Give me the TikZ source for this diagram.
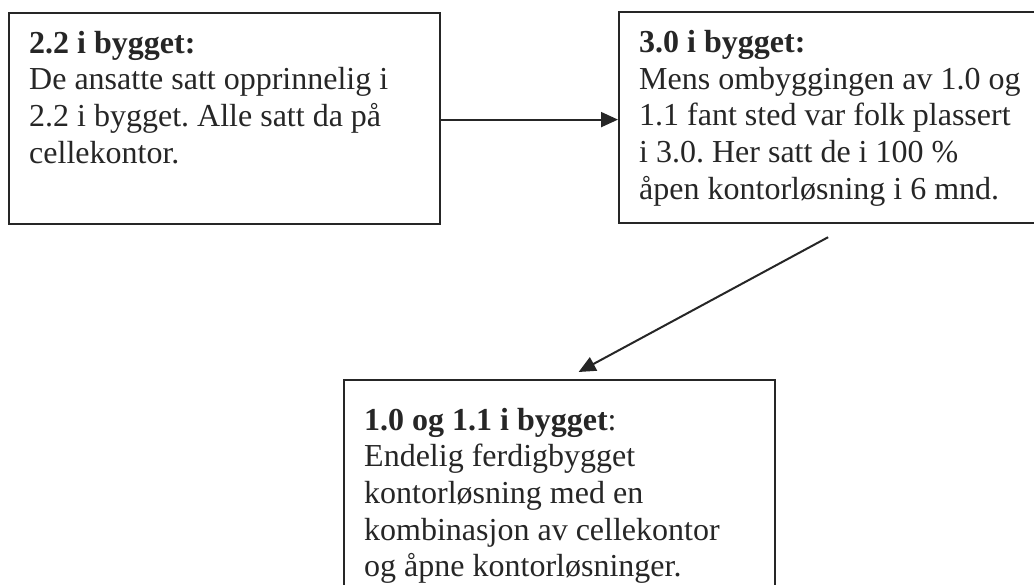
\documentclass[tikz,border=0pt]{standalone}
\usepackage{fontspec}
\setmainfont{Liberation Serif}
\usetikzlibrary{arrows.meta}
\definecolor{ink}{HTML}{262626}
\frenchspacing
\begin{document}
\begin{tikzpicture}[x=1pt,y=1pt,
  box/.style={draw=ink, line width=2.2pt, rectangle, inner sep=0pt,
    minimum width=431pt, minimum height=211pt, anchor=north west},
  txt/.style={inner sep=0pt, anchor=north west, align=left, text=ink,
    font=\fontsize{32}{36.7}\selectfont},
  link/.style={draw=ink, line width=2pt, -{Triangle[length=17pt,width=15pt]}}]
  \useasboundingbox (0,0) rectangle (1034,-584);
  \clip (0,0) rectangle (1034,-584);

  % frames
  \node[box] (b1) at (8,-12) {};
  \node[box] (b2) at (618,-11) {};
  \node[box] (b3) at (343,-379) {};

  % texts
  \node[txt] (t1) at (29,-27.3) {\strut\textbf{2.2 i bygget:}\\
    De ansatte satt opprinnelig i\\
    2.2 i bygget. Alle satt da på\\
    cellekontor.};
  \node[txt] (t2) at (639,-26.5) {\strut\textbf{3.0 i bygget:}\\
    Mens ombyggingen av 1.0 og\\
    1.1 fant sted var folk plassert\\
    i 3.0. Her satt de i 100 \%\\
    åpen kontorløsning i 6 mnd.};
  \node[txt] (t3) at (364,-404.3) {\strut\textbf{1.0 og 1.1 i bygget}:\\
    Endelig ferdigbygget\\
    kontorløsning med en\\
    kombinasjon av cellekontor\\
    og åpne kontorløsninger.};

  % connectors
  \draw[link] ([yshift=-1pt]b1.east) -- ([yshift=-2pt]b2.west);
  \draw[link] ([xshift=-6.5pt,yshift=-13pt]b2.south) -- ([xshift=19pt,yshift=7pt]b3.north);
\end{tikzpicture}
\end{document}
